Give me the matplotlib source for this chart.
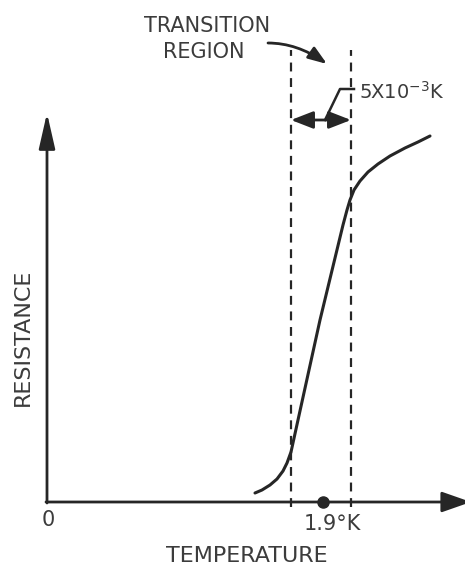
import matplotlib
matplotlib.use("Agg")
import matplotlib.pyplot as plt
import numpy as np

plt.rcParams['font.family'] = ['DejaVu Sans']
plt.rcParams['mathtext.default'] = 'regular'

# resistance vs temperature curve (arbitrary units, origin at axes corner)
temp = [208, 215, 223, 230, 236, 240, 244, 251, 273, 296, 300, 303, 307, 313,
        321, 331, 343, 358, 371, 383]
resist = [9, 12, 17, 23, 31, 39, 50, 82, 182, 277, 292, 302, 312, 321,
          330, 338, 346, 354, 360, 366]

# transition region edges and critical temperature (same units)
trans_lo = 244
trans_hi = 304
t_crit = 276

ink = '#262626'
txt = '#3c3c3c'

fig = plt.figure(figsize=(4.65, 5.66), dpi=100)
ax = fig.add_axes([0, 0, 1, 1])
ax.set_xlim(-47, 418)
ax.set_ylim(-64, 502)
ax.axis('off')

# axes with arrows
ax.annotate('', xy=(0, 389), xytext=(0, -1), annotation_clip=False,
            arrowprops=dict(arrowstyle='-|>,head_length=1.45,head_width=0.33',
                            mutation_scale=15, color=ink, lw=2, shrinkA=0, shrinkB=0))
ax.annotate('', xy=(424, 0), xytext=(-1, 0), annotation_clip=False,
            arrowprops=dict(arrowstyle='-|>,head_length=1.2,head_width=0.42',
                            mutation_scale=15, color=ink, lw=2, shrinkA=0, shrinkB=0))

# curve
ax.plot(temp, resist, color=ink, lw=2.2, solid_joinstyle='round', solid_capstyle='round')

# dashed boundaries of transition region
for xv in [trans_lo, trans_hi]:
    ax.plot([xv, xv], [-5, 452], color=ink, lw=1.6, ls=(0, (4, 3)))

# critical temperature dot
ax.plot([t_crit], [0], 'o', color=ink, ms=8)

# width arrow
ax.annotate('', xy=(trans_hi, 382), xytext=(trans_lo, 382),
            arrowprops=dict(arrowstyle='<|-|>,head_length=0.9,head_width=0.35',
                            mutation_scale=15, color=ink, lw=2, shrinkA=0, shrinkB=0))
ax.plot([278, 293, 307], [382, 413, 413], color=ink, lw=1.8)
ax.text(312, 410, '5X10$^{-3}$K', fontsize=14, color=txt, va='center', ha='left')

# transition region label and arrow
ax.text(160, 476, 'TRANSITION', fontsize=15, color=txt, ha='center', va='center')
ax.text(157, 450, 'REGION', fontsize=15, color=txt, ha='center', va='center')
ax.annotate('', xy=(280, 438), xytext=(221, 459),
            arrowprops=dict(arrowstyle='-|>,head_length=0.75,head_width=0.27',
                            mutation_scale=15, color=ink, lw=2, shrinkA=0, shrinkB=0,
                            connectionstyle='angle3,angleA=0,angleB=-35'))

# axis labels
ax.text(1, -18, '0', fontsize=15, color=txt, ha='center', va='center')
ax.text(285, -22, '1.9°K', fontsize=15, color=txt, ha='center', va='center')
ax.text(200, -54, 'TEMPERATURE', fontsize=16, color=txt, ha='center', va='center')
ax.text(-24, 165, 'RESISTANCE', fontsize=16, color=txt, ha='center', va='center',
        rotation=90)

fig.savefig('out.png', dpi=100)
